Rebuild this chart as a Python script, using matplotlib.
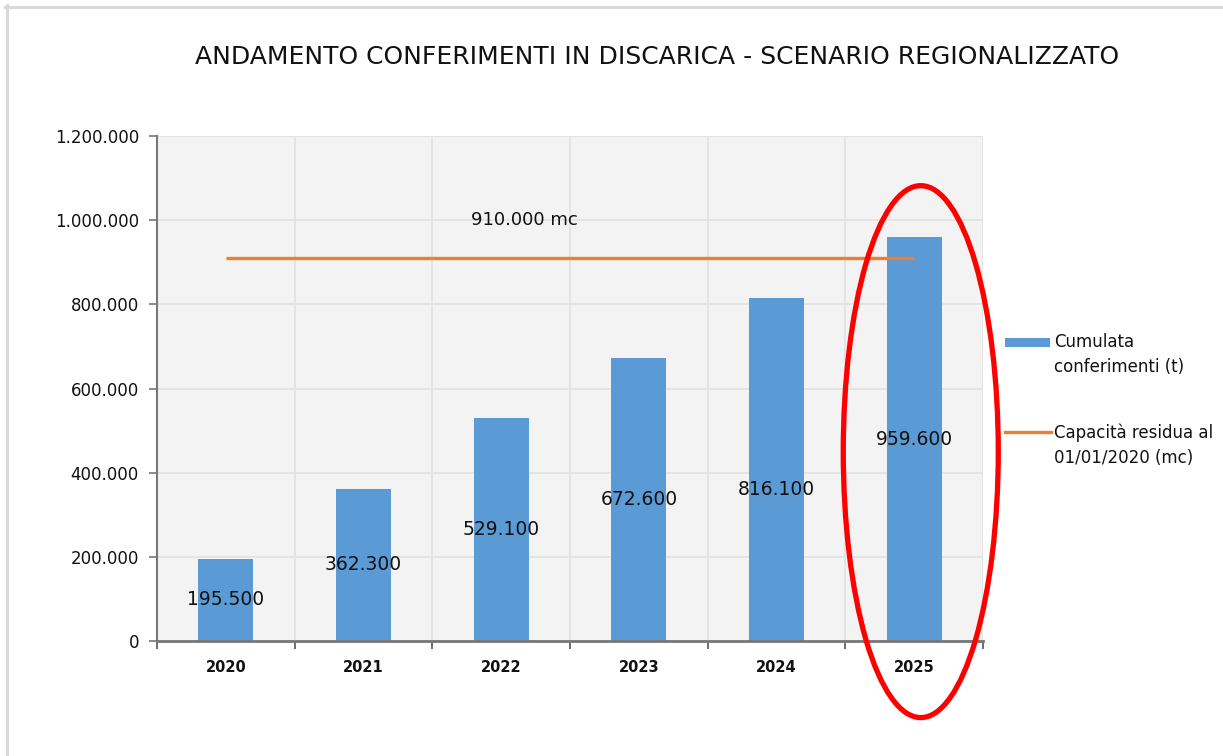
import matplotlib
matplotlib.use("Agg")
import matplotlib.pyplot as plt
from matplotlib.patches import Ellipse, Rectangle
from matplotlib.lines import Line2D
from matplotlib.ticker import FuncFormatter, MultipleLocator, FixedLocator
import numpy as np

# ---- data ----
years = ["2020", "2021", "2022", "2023", "2024", "2025"]
cumulata = [195500, 362300, 529100, 672600, 816100, 959600]
capacita = [910000, 910000, 910000, 910000, 910000, 910000]
value_labels = ["195.500", "362.300", "529.100", "672.600", "816.100", "959.600"]
capacita_label = "910.000 mc"
title = "ANDAMENTO CONFERIMENTI IN DISCARICA - SCENARIO REGIONALIZZATO"
legend_labels = ["Cumulata\nconferimenti (t)", "Capacità residua al\n01/01/2020 (mc)"]

BLUE = "#5B9BD5"
ORANGE = "#ED7D31"

W, H = 1223, 756
fig = plt.figure(figsize=(W / 100, H / 100), dpi=100)
fig.patch.set_facecolor("white")

def fx(px):
    return px / W

def fy(py):
    return 1 - py / H

ax = fig.add_axes([fx(157), fy(641), fx(983) - fx(157), fy(136) - fy(641)])
ax.set_facecolor("#f3f3f3")

x = np.arange(len(years))
ax.bar(x, cumulata, width=0.4, color=BLUE, zorder=3)
ax.plot(x, capacita, color=ORANGE, lw=2.4, zorder=4, solid_capstyle="butt")

# data labels (centred in bars)
label_frac = [0.5, 0.5, 0.5, 0.5, 0.44, 0.5]
for xi, v, lab, fr in zip(x, cumulata, value_labels, label_frac):
    ax.text(xi, v * fr, lab, ha="center", va="center", fontsize=13.5,
            color="#111111", zorder=5)

ax.text(2.17, 1.0e6, capacita_label, ha="center", va="center", fontsize=13,
        color="#111111", zorder=5)

ax.set_xlim(-0.5, len(years) - 0.5)
ax.set_ylim(0, 1200000)
ax.yaxis.set_major_locator(MultipleLocator(200000))
ax.yaxis.set_major_formatter(FuncFormatter(lambda v, p: f"{int(v):,}".replace(",", ".")))
ax.set_xticks(x)
ax.set_xticklabels(years, fontsize=10.5, fontweight="bold", color="#111111")
ax.xaxis.set_minor_locator(FixedLocator(np.arange(-0.5, len(years), 1.0)))
ax.tick_params(axis="x", which="major", length=0, pad=14)
ax.tick_params(axis="x", which="minor", length=6, width=1.2, color="#555555", direction="out")
ax.tick_params(axis="y", length=6, width=1.2, color="#777777", labelsize=12,
               labelcolor="#111111", pad=7)

ax.grid(True, axis="y", color="#e2e2e2", lw=1.2, zorder=0)
ax.grid(True, axis="x", which="minor", color="#e2e2e2", lw=1.2, zorder=0)
for s in ["top", "right"]:
    ax.spines[s].set_visible(False)
ax.spines["left"].set_color("#777777")
ax.spines["left"].set_linewidth(1.5)
ax.spines["bottom"].set_color("#777777")
ax.spines["bottom"].set_linewidth(2.0)
ax.spines["bottom"].set_zorder(6)

# highlighted ellipse around 2025
ell = Ellipse((5.048, 450000), width=1.126, height=1264000, fill=False,
              edgecolor="#ff0000", lw=3.8, clip_on=False, zorder=7)
ax.add_patch(ell)

# title
fig.text(fx(657), fy(57), title, ha="center", va="center", fontsize=18,
         color="#111111")

# legend (drawn manually at right)
fig.add_artist(Rectangle((fx(1005), fy(347)), fx(1050) - fx(1005), fy(338) - fy(347),
                         transform=fig.transFigure, facecolor=BLUE, edgecolor="none"))
fig.text(fx(1054), fy(355), legend_labels[0], ha="left", va="center", fontsize=12,
         color="#111111", linespacing=1.5)
fig.add_artist(Line2D([fx(1005), fx(1051)], [fy(432), fy(432)], color=ORANGE, lw=2.4,
                      transform=fig.transFigure))
fig.text(fx(1054), fy(445), legend_labels[1], ha="left", va="center", fontsize=12,
         color="#111111", linespacing=1.5)

# outer frame lines (top & left)
fig.add_artist(Line2D([fx(5), 1], [fy(6.5), fy(6.5)], color="#d9d9d9", lw=2.2,
                      transform=fig.transFigure))
fig.add_artist(Line2D([fx(6.5), fx(6.5)], [fy(5), 0], color="#d9d9d9", lw=2.2,
                      transform=fig.transFigure))

fig.savefig("out.png", dpi=100)
